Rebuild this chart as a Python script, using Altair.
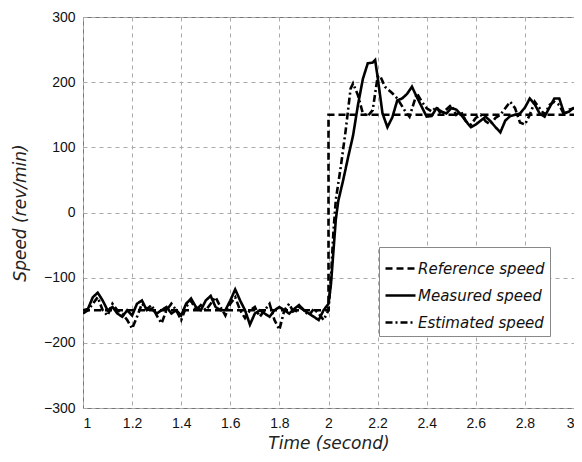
import altair as alt
import pandas as pd

series_names = ["Reference speed", "Measured speed", "Estimated speed"]

ref_t = [1.0, 2.0, 2.0, 3.0]
ref_v = [-150, -150, 150, 150]

meas_t = [1.00, 1.02, 1.04, 1.06, 1.08, 1.10, 1.12, 1.14, 1.16, 1.18,
          1.20, 1.22, 1.24, 1.26, 1.28, 1.30, 1.32, 1.34, 1.36, 1.38,
          1.40, 1.42, 1.44, 1.46, 1.48, 1.50, 1.52, 1.54, 1.56, 1.58,
          1.60, 1.62, 1.64, 1.66, 1.68, 1.70, 1.72, 1.74, 1.76, 1.78,
          1.80, 1.82, 1.84, 1.86, 1.88, 1.90, 1.92, 1.94, 1.96, 1.98,
          2.00, 2.01, 2.02, 2.03, 2.04, 2.06, 2.08, 2.10, 2.12, 2.14,
          2.16, 2.18, 2.19, 2.20, 2.22, 2.24, 2.26, 2.28, 2.30, 2.32,
          2.34, 2.36, 2.38, 2.40, 2.42, 2.44, 2.46, 2.48, 2.50, 2.52,
          2.54, 2.56, 2.58, 2.60, 2.62, 2.64, 2.66, 2.68, 2.70, 2.72,
          2.74, 2.76, 2.78, 2.80, 2.82, 2.84, 2.86, 2.88, 2.90, 2.92,
          2.94, 2.96, 2.98, 3.00]
meas_v = [-150, -148, -130, -123, -135, -150, -145, -155, -160, -150,
          -158, -140, -135, -150, -148, -155, -150, -145, -155, -150,
          -158, -140, -132, -145, -150, -135, -128, -145, -150, -150,
          -135, -118, -135, -150, -172, -155, -150, -155, -160, -150,
          -145, -150, -155, -148, -142, -150, -155, -160, -165, -150,
          -140, -110, -60, -10, 18, 50, 85, 118, 165, 205,
          229, 230, 234, 208, 152, 131, 146, 172, 175, 182,
          193, 177, 162, 147, 148, 160, 155, 152, 160, 158,
          150, 140, 131, 135, 141, 147, 140, 131, 123, 141,
          148, 150, 152, 161, 175, 166, 152, 147, 161, 175,
          175, 152, 155, 161]

est_t = [1.00, 1.02, 1.04, 1.06, 1.08, 1.10, 1.12, 1.14, 1.16, 1.18,
         1.20, 1.22, 1.24, 1.26, 1.28, 1.30, 1.32, 1.34, 1.36, 1.38,
         1.40, 1.42, 1.44, 1.46, 1.48, 1.50, 1.52, 1.54, 1.56, 1.58,
         1.60, 1.62, 1.64, 1.66, 1.68, 1.70, 1.72, 1.74, 1.76, 1.78,
         1.80, 1.82, 1.84, 1.86, 1.88, 1.90, 1.92, 1.94, 1.96, 1.98,
         2.00, 2.01, 2.02, 2.03, 2.05, 2.07, 2.09, 2.10, 2.12, 2.14,
         2.16, 2.18, 2.20, 2.21, 2.23, 2.26, 2.28, 2.31, 2.33, 2.36,
         2.38, 2.40, 2.42, 2.44, 2.46, 2.48, 2.50, 2.52, 2.54, 2.56,
         2.58, 2.60, 2.62, 2.64, 2.66, 2.68, 2.70, 2.72, 2.74, 2.76,
         2.78, 2.80, 2.82, 2.84, 2.86, 2.88, 2.90, 2.92, 2.94, 2.96,
         2.98, 3.00]
est_v = [-155, -150, -140, -130, -150, -158, -140, -150, -155, -165,
         -178, -160, -140, -148, -142, -158, -170, -150, -140, -150,
         -165, -145, -135, -150, -142, -150, -140, -130, -145, -158,
         -140, -130, -150, -162, -150, -145, -160, -150, -140, -165,
         -180, -150, -140, -155, -145, -150, -158, -148, -155, -165,
         -150, -100, -30, 20, 70, 126, 190, 198, 180, 152,
         148, 157, 208, 210, 193, 183, 175, 157, 147, 183,
         170, 160, 155, 162, 150, 158, 165, 150, 155, 140,
         135, 145, 150, 140, 135, 145, 150, 160, 170, 160,
         138, 135, 150, 170, 160, 150, 165, 170, 165, 150,
         158, 160]

rows = []
for t, v in zip(ref_t, ref_v):
    rows.append({"series": series_names[0], "t": t, "v": v})
for t, v in zip(meas_t, meas_v):
    rows.append({"series": series_names[1], "t": t, "v": v})
for t, v in zip(est_t, est_v):
    rows.append({"series": series_names[2], "t": t, "v": v})
df = pd.DataFrame(rows)
df["order"] = range(len(df))

x_ticks = [1, 1.2, 1.4, 1.6, 1.8, 2, 2.2, 2.4, 2.6, 2.8, 3]
y_ticks = [-300, -200, -100, 0, 100, 200, 300]

chart = alt.Chart(df).mark_line(clip=True, color="black").encode(
    x=alt.X("t:Q", scale=alt.Scale(domain=[1, 3], nice=False),
            axis=alt.Axis(values=x_ticks, format="~g", title="Time (second)")),
    y=alt.Y("v:Q", scale=alt.Scale(domain=[-300, 300], nice=False),
            axis=alt.Axis(values=y_ticks, title="Speed (rev/min)")),
    detail="series:N",
    order="order:Q",
    strokeDash=alt.StrokeDash(
        "series:N",
        scale=alt.Scale(domain=series_names, range=[[7, 4], [1, 0], [7, 3, 2, 3]]),
        legend=alt.Legend(title=None, orient="none", legendX=296, legendY=230,
                          fillColor="white", strokeColor="#888", padding=5,
                          symbolType="stroke", symbolSize=900, symbolStrokeWidth=2.4,
                          symbolStrokeColor="black",
                          labelFont="DejaVu Sans", labelFontStyle="italic",
                          labelFontSize=15, labelColor="#111", rowPadding=2,
                          labelOffset=1),
    ),
    strokeWidth=alt.StrokeWidth(
        "series:N",
        scale=alt.Scale(domain=series_names, range=[2.6, 2.6, 1.7]),
        legend=None,
    ),
).properties(
    width=491,
    height=391,
    autosize=alt.AutoSizeParams(type="none"),
    padding={"left": 75, "top": 9, "right": 0, "bottom": 46},
).configure_view(
    stroke="#777", strokeWidth=1
).configure_axis(
    domain=False,
    ticks=False,
    tickSize=0,
    grid=True,
    gridColor="#aaa",
    gridDash=[4, 4],
    gridWidth=1,
    labelFont="Liberation Sans",
    labelFontSize=14,
    labelColor="#111",
    labelPadding=8,
    titleFont="DejaVu Sans",
    titleFontStyle="italic",
    titleFontWeight="normal",
    titleFontSize=17,
    titleColor="#222",
).configure_axisY(
    titlePadding=14,
).configure_axisX(
    titlePadding=5,
)

chart.save("out.html", embed_options={"renderer": "svg", "actions": False})
